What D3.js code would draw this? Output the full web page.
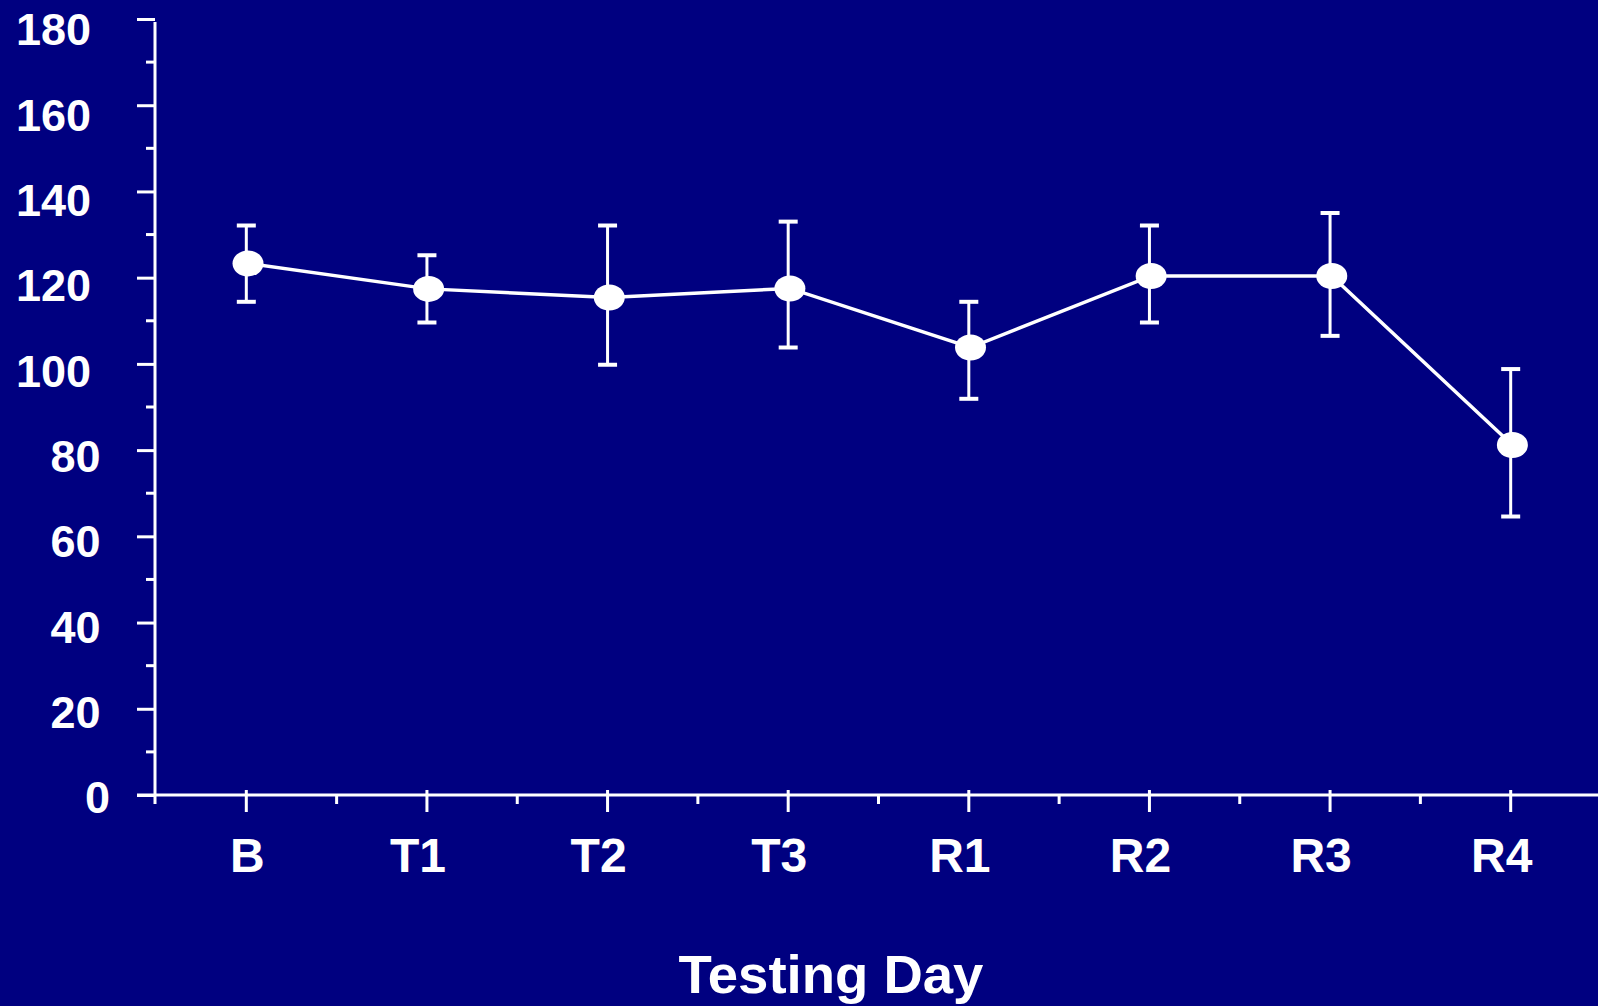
<!DOCTYPE html>
<html>
<head>
<meta charset="utf-8">
<script src="https://cdn.jsdelivr.net/npm/d3@7"></script>
<style>
  html, body { margin: 0; padding: 0; background: #000080; }
  svg { display: block; }
  text { font-family: "Liberation Sans", Arial, sans-serif; font-weight: bold; fill: #fff; }
</style>
</head>
<body>
<svg width="1598" height="1006"></svg>
<script>
// Chart data
var days = ["B", "T1", "T2", "T3", "R1", "R2", "R3", "R4"];
var means = [123.3, 117.4, 115.4, 117.5, 103.8, 120.4, 120.4, 81.2];
var upper = [132.1, 125.2, 132.1, 133.0, 114.4, 132.1, 135.0, 98.8];
var lower = [114.4, 109.6, 99.8, 103.8, 91.9, 109.6, 106.5, 64.6];
var yTicks = [0, 20, 40, 60, 80, 100, 120, 140, 160, 180];
var yMinorTicks = [10, 30, 50, 70, 90, 110, 130, 150, 170];

var svg = d3.select("svg"),
  width = +svg.attr("width"),
  height = +svg.attr("height");

var white = "#ffffff";

// scales
var x = d3.scaleBand().domain(days).range([156, 1601]);
var y = d3.scaleLinear().domain([0, 180]).range([795, 19]);
var cx = function (d) { return x(d) + x.bandwidth() / 2; };

var data = days.map(function (d, i) {
  return { day: d, mean: means[i], hi: upper[i], lo: lower[i] };
});

// Y axis
var yAxis = svg.append("g").attr("transform", "translate(155,0)");
yAxis.call(d3.axisLeft(y).tickValues(yTicks).tickSize(18).tickPadding(18).tickSizeOuter(0));
yAxis.select(".domain").remove();
yAxis.selectAll(".tick line").attr("stroke", white).attr("stroke-width", 3);
// labels in the original sit a bit further right the shorter they are
yAxis.selectAll(".tick text")
  .attr("font-size", 45)
  .attr("x", function (d) { return -64 + (3 - String(d).length) * 9.5; })
  .attr("dy", function (d) { return (0.35 * 45 + 2 + d / 180 * 8) + "px"; });

// minor y ticks
svg.append("g")
  .selectAll("line")
  .data(yMinorTicks)
  .enter()
  .append("line")
  .attr("x1", 146).attr("x2", 155)
  .attr("y1", function (d) { return y(d); })
  .attr("y2", function (d) { return y(d); })
  .attr("stroke", white).attr("stroke-width", 3);

// y axis line
svg.append("line")
  .attr("x1", 155).attr("x2", 155)
  .attr("y1", y(180) + 3).attr("y2", 804)
  .attr("stroke", white).attr("stroke-width", 3);

// X axis
svg.append("line")
  .attr("x1", 137).attr("x2", width)
  .attr("y1", y(0)).attr("y2", y(0))
  .attr("stroke", white).attr("stroke-width", 3);

var xAxis = svg.append("g").attr("transform", "translate(0," + (y(0) - 5) + ")");
xAxis.call(d3.axisBottom(x).tickSize(22).tickPadding(26).tickSizeOuter(0));
xAxis.select(".domain").remove();
xAxis.selectAll(".tick line").attr("stroke", white).attr("stroke-width", 3);
xAxis.selectAll(".tick text")
  .attr("font-size", 48)
  .attr("dy", "0.71em")
  .attr("x", function (d) { return d.length > 1 ? -9 : 1; });

// minor x ticks between categories
svg.append("g")
  .selectAll("line")
  .data(days.slice(1))
  .enter()
  .append("line")
  .attr("x1", function (d) { return x(d); })
  .attr("x2", function (d) { return x(d); })
  .attr("y1", y(0)).attr("y2", y(0) + 9)
  .attr("stroke", white).attr("stroke-width", 3);

// axis title
svg.append("text")
  .attr("x", 831)
  .attr("y", 993)
  .attr("text-anchor", "middle")
  .attr("font-size", 54.5)
  .text("Testing Day");

// error bars
var bars = svg.append("g").selectAll("g").data(data).enter().append("g");
bars.append("line")
  .attr("x1", function (d) { return cx(d.day); })
  .attr("x2", function (d) { return cx(d.day); })
  .attr("y1", function (d) { return y(d.hi); })
  .attr("y2", function (d) { return y(d.lo); })
  .attr("stroke", white).attr("stroke-width", 3);
bars.append("line")
  .attr("x1", function (d) { return cx(d.day) - 9.5; })
  .attr("x2", function (d) { return cx(d.day) + 9.5; })
  .attr("y1", function (d) { return y(d.hi); })
  .attr("y2", function (d) { return y(d.hi); })
  .attr("stroke", white).attr("stroke-width", 4);
bars.append("line")
  .attr("x1", function (d) { return cx(d.day) - 9.5; })
  .attr("x2", function (d) { return cx(d.day) + 9.5; })
  .attr("y1", function (d) { return y(d.lo); })
  .attr("y2", function (d) { return y(d.lo); })
  .attr("stroke", white).attr("stroke-width", 4);

// mean line
var line = d3.line()
  .x(function (d) { return cx(d.day) + 1.7; })
  .y(function (d) { return y(d.mean); });

svg.append("path")
  .datum(data)
  .attr("d", line)
  .attr("fill", "none")
  .attr("stroke", white)
  .attr("stroke-width", 3.5);

// markers
svg.append("g")
  .selectAll("ellipse")
  .data(data)
  .enter()
  .append("ellipse")
  .attr("cx", function (d) { return cx(d.day) + 1.7; })
  .attr("cy", function (d) { return y(d.mean); })
  .attr("rx", 15.5)
  .attr("ry", 13)
  .attr("fill", white);
</script>
</body>
</html>
